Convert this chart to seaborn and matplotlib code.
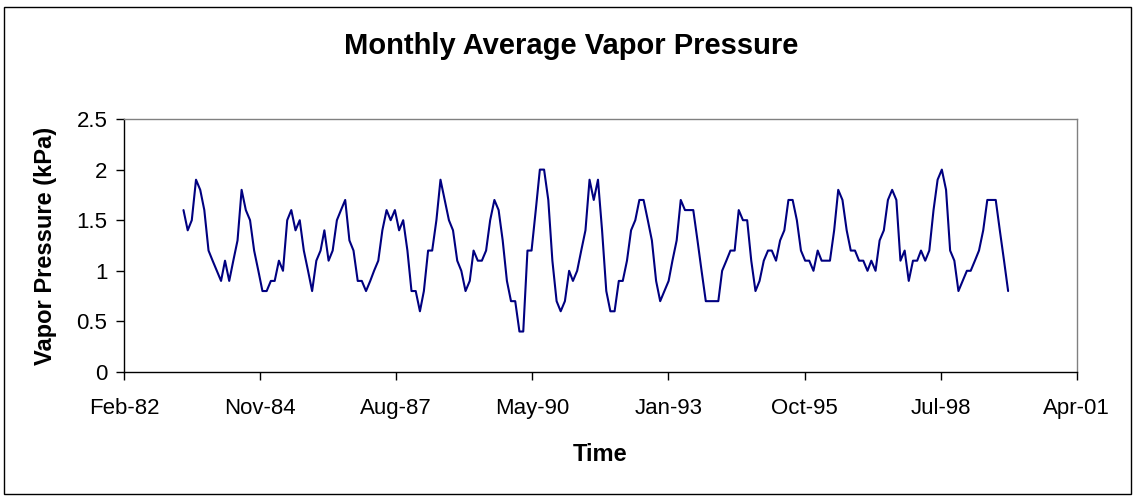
#-------------Monthly Average Vapor Pressure (line chart):-----------------
import pandas as pd
import matplotlib
matplotlib.use("Agg")
import matplotlib.pyplot as plt
import matplotlib.dates as mdates
from matplotlib.patches import Rectangle
import seaborn as sns

#Monthly values (kPa), May-1983 .. Dec-1999:
start_month = "1983-05-01"
vapor_1983_1986 = [1.6, 1.4, 1.5, 1.9, 1.8, 1.6, 1.2, 1.1, 1.0, 0.9, 1.1, 0.9, 1.1, 1.3, 1.8, 1.6, 1.5, 1.2, 1.0, 0.8,
                   0.8, 0.9, 0.9, 1.1, 1.0, 1.5, 1.6, 1.4, 1.5, 1.2, 1.0, 0.8, 1.1, 1.2, 1.4, 1.1, 1.2, 1.5, 1.6, 1.7]
vapor_1986_1989 = [1.3, 1.2, 0.9, 0.9, 0.8, 0.9, 1.0, 1.1, 1.4, 1.6, 1.5, 1.6, 1.4, 1.5, 1.2, 0.8, 0.8, 0.6, 0.8, 1.2,
                   1.2, 1.5, 1.9, 1.7, 1.5, 1.4, 1.1, 1.0, 0.8, 0.9, 1.2, 1.1, 1.1, 1.2, 1.5, 1.7, 1.6, 1.3, 0.9, 0.7]
vapor_1990_1993 = [0.7, 0.4, 0.4, 1.2, 1.2, 1.6, 2.0, 2.0, 1.7, 1.1, 0.7, 0.6, 0.7, 1.0, 0.9, 1.0, 1.2, 1.4, 1.9, 1.7,
                   1.9, 1.4, 0.8, 0.6, 0.6, 0.9, 0.9, 1.1, 1.4, 1.5, 1.7, 1.7, 1.5, 1.3, 0.9, 0.7, 0.8, 0.9, 1.1, 1.3]
vapor_1993_1996 = [1.7, 1.6, 1.6, 1.6, 1.3, 1.0, 0.7, 0.7, 0.7, 0.7, 1.0, 1.1, 1.2, 1.2, 1.6, 1.5, 1.5, 1.1, 0.8, 0.9,
                   1.1, 1.2, 1.2, 1.1, 1.3, 1.4, 1.7, 1.7, 1.5, 1.2, 1.1, 1.1, 1.0, 1.2, 1.1, 1.1, 1.1, 1.4, 1.8, 1.7]
vapor_1996_1999 = [1.4, 1.2, 1.2, 1.1, 1.1, 1.0, 1.1, 1.0, 1.3, 1.4, 1.7, 1.8, 1.7, 1.1, 1.2, 0.9, 1.1, 1.1, 1.2, 1.1,
                   1.2, 1.6, 1.9, 2.0, 1.8, 1.2, 1.1, 0.8, 0.9, 1.0, 1.0, 1.1, 1.2, 1.4, 1.7, 1.7, 1.7, 1.4, 1.1, 0.8]

vapor = vapor_1983_1986 + vapor_1986_1989 + vapor_1990_1993 + vapor_1993_1996 + vapor_1996_1999

#x-axis: Excel style date axis, ticks every 1000 days
x_start = "1982-02-18"
x_end = "2001-04-20"
x_ticks = pd.date_range(x_start, periods=8, freq="1000D")
y_ticks = [0, 0.5, 1, 1.5, 2, 2.5]

df = pd.DataFrame({"Time": pd.date_range(start_month, periods=len(vapor), freq="MS"),
                   "Vapor Pressure (kPa)": vapor})

#------------------------Plot:----------------------
sns.set_style("white")
plt.rcParams["font.family"] = ["Liberation Sans", "DejaVu Sans"]
plt.rcParams["text.color"] = "black"
plt.rcParams["axes.labelcolor"] = "black"
plt.rcParams["xtick.color"] = "black"
plt.rcParams["ytick.color"] = "black"

fig = plt.figure(figsize=(11.35, 5.0), dpi=100)
ax = fig.add_axes([124/1135, 1 - 372/500, (1077-124)/1135, (372-119)/500])

sns.lineplot(data=df, x="Time", y="Vapor Pressure (kPa)", color="#000080", linewidth=1.5, ax=ax)

ax.set_xlim(pd.Timestamp(x_start), pd.Timestamp(x_end))
ax.set_ylim(0, 2.5)
ax.set_xticks(x_ticks)
ax.xaxis.set_major_formatter(mdates.DateFormatter("%b-%y"))
ax.set_yticks(y_ticks)
ax.set_yticklabels([f"{t:g}" for t in y_ticks])
ax.tick_params(axis="both", labelsize=16, length=6, width=1, direction="out", colors="black",
               bottom=True, left=True)
ax.tick_params(axis="x", pad=13)
ax.tick_params(axis="y", pad=6)

#plot area border: gray, axes lines black
for side in ["top", "right"]:
    ax.spines[side].set_color("#808080")
for side in ["left", "bottom"]:
    ax.spines[side].set_color("black")
for s in ax.spines.values():
    s.set_linewidth(1)

ax.set_xlabel("Time", fontsize=17, fontweight="bold", labelpad=17)
ax.set_ylabel("Vapor Pressure (kPa)", fontsize=17, fontweight="bold", labelpad=14)
fig.text(571/1135, 1 - 46/500, "Monthly Average Vapor Pressure", fontsize=21, fontweight="bold",
         ha="center", va="center")

#chart area border
fig.patches.append(Rectangle((4/1135, 1 - 494/500), 1127/1135, 487/500, transform=fig.transFigure,
                             fill=False, edgecolor="black", linewidth=1))

fig.savefig("out.png", dpi=100)
